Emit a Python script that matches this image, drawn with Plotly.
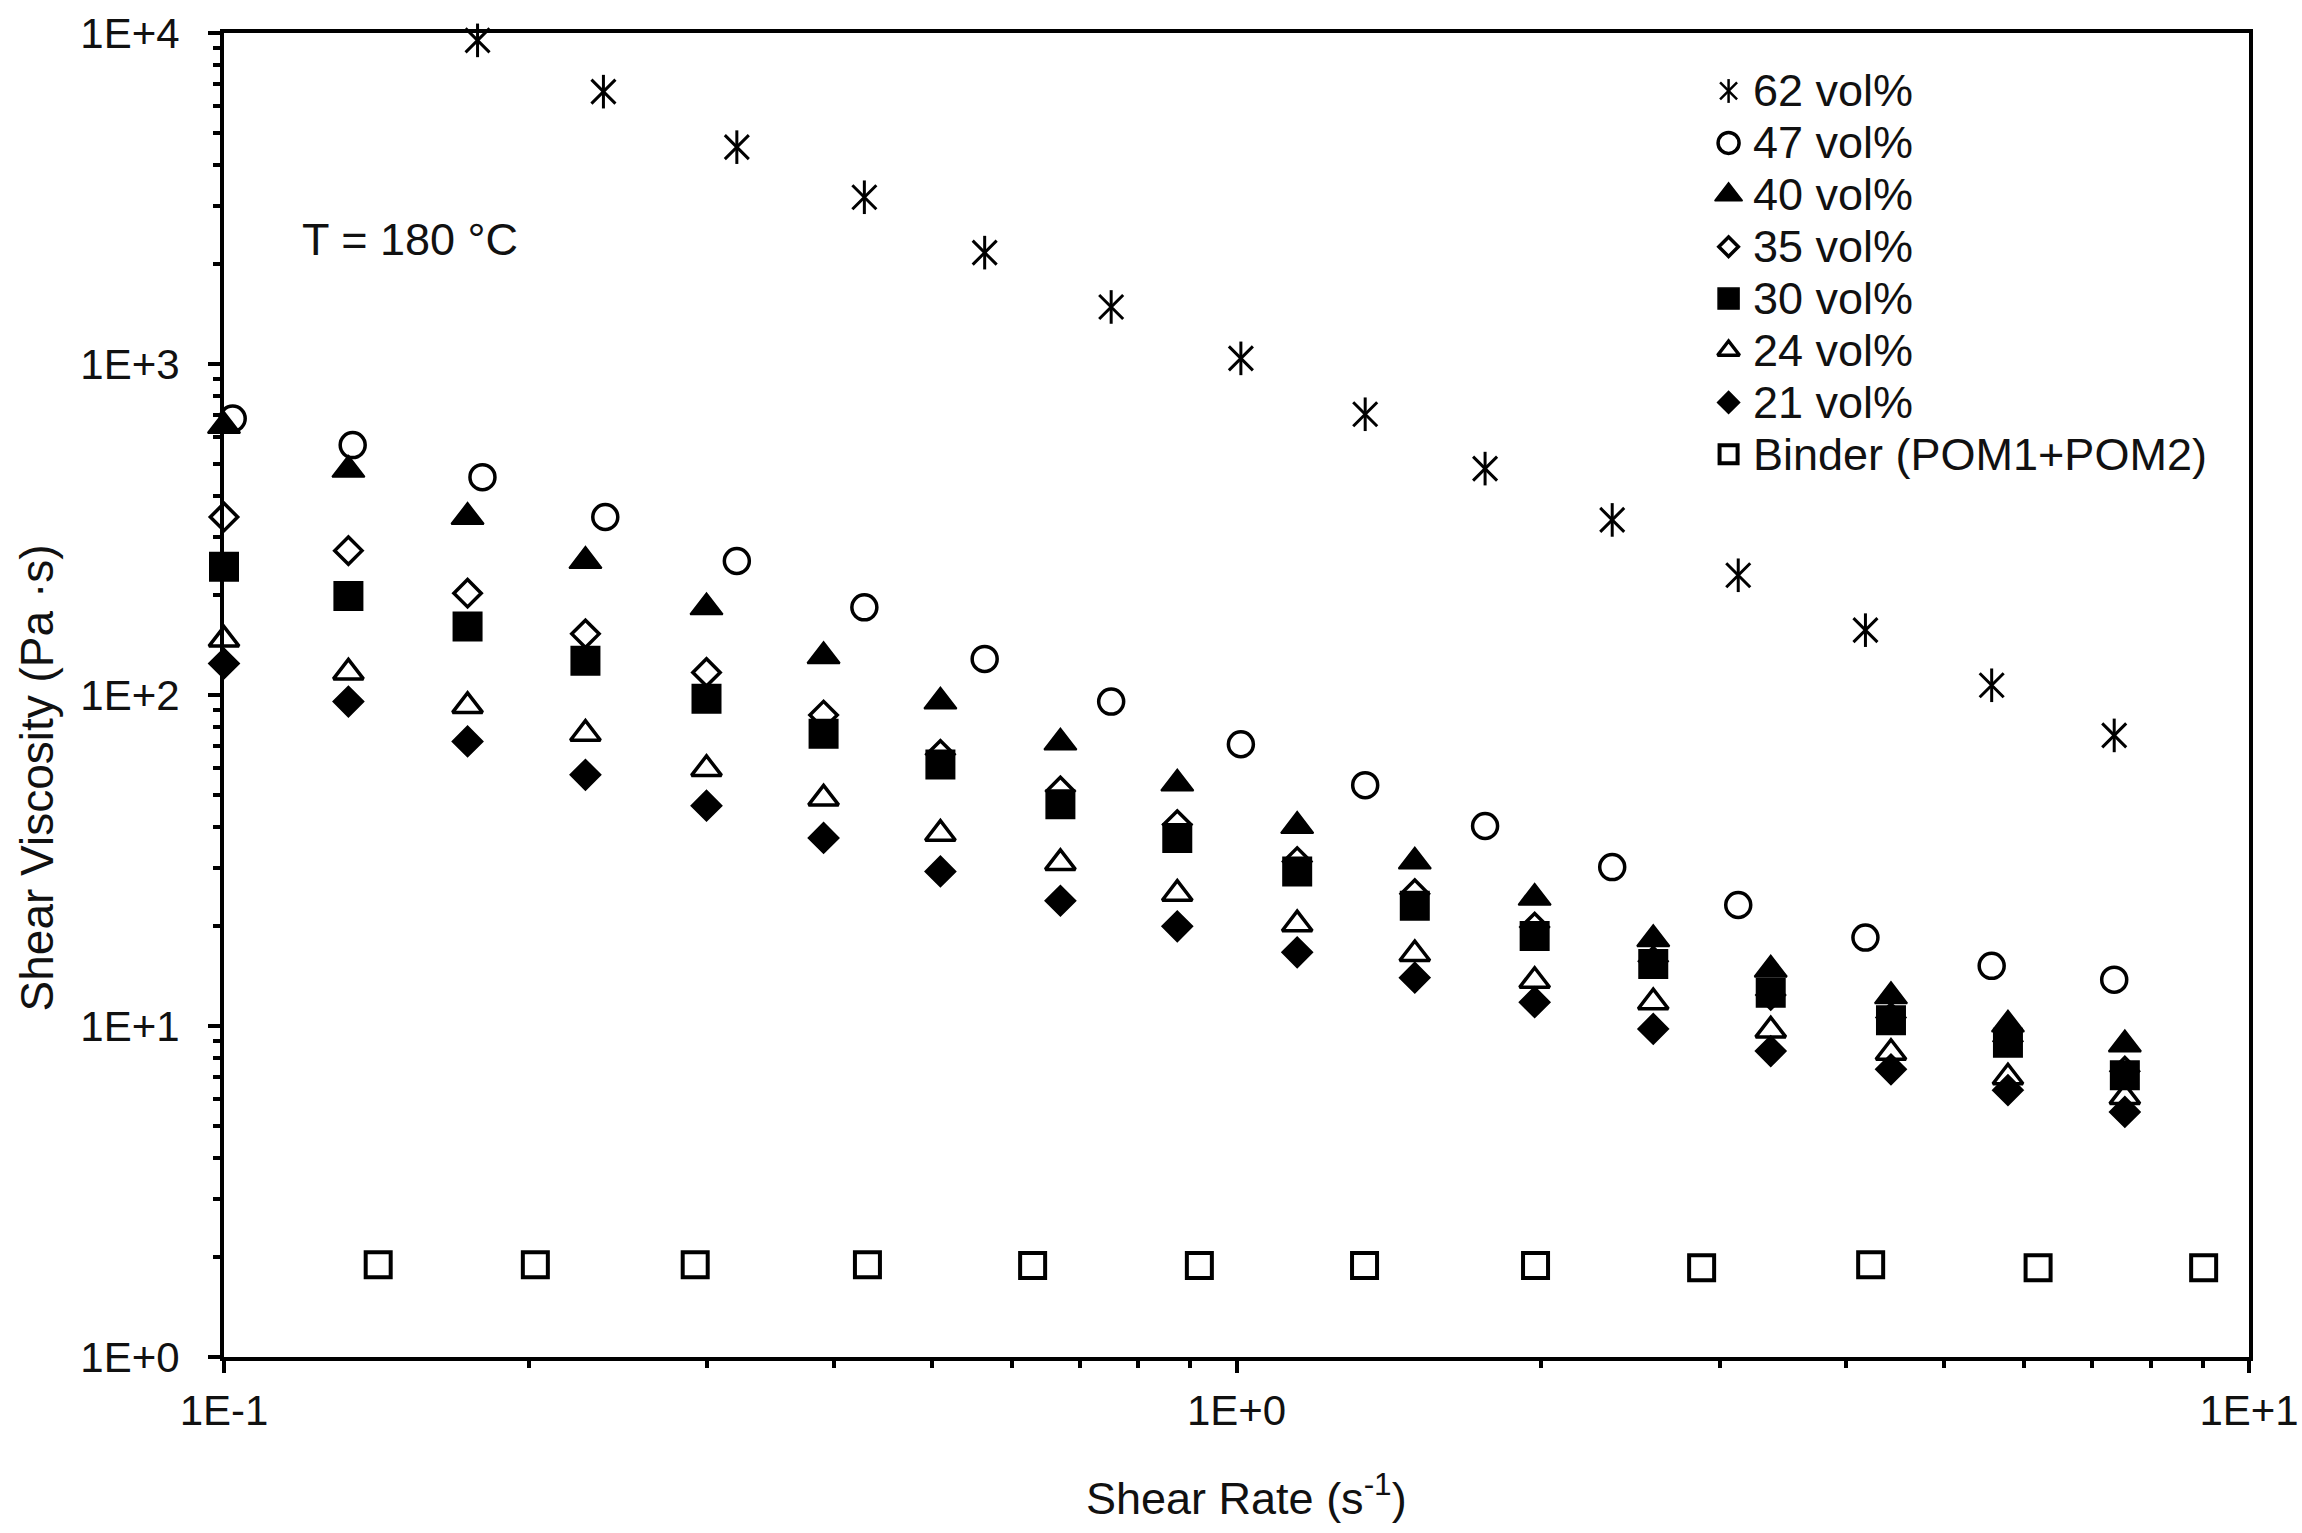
import plotly.graph_objects as go

# shear rates (1/s)
rate_62 = [0.178, 0.237, 0.321, 0.429, 0.564, 0.752, 1.01, 1.34, 1.76, 2.35, 3.13, 4.18, 5.57, 7.36]
rate_47 = [0.102, 0.134, 0.180, 0.238, 0.321, 0.429, 0.564, 0.752, 1.01, 1.34, 1.76, 2.35, 3.13, 4.18, 5.57, 7.36]
rate_low = [0.1, 0.1327, 0.174, 0.2275, 0.2996, 0.391, 0.510, 0.670, 0.874, 1.148, 1.50, 1.97, 2.58, 3.37, 4.43, 5.78, 7.54]
rate_binder = [0.142, 0.203, 0.292, 0.432, 0.629, 0.919, 1.338, 1.974, 2.88, 4.23, 6.19, 9.02]

# shear viscosity (Pa s)
visc_62 = [9500, 6650, 4520, 3190, 2170, 1487, 1040, 705, 483, 338, 230, 157, 107, 75.5]
visc_47 = [684, 569, 455, 345, 254, 184, 128.5, 95.5, 71, 53.4, 40.2, 30.2, 23.2, 18.5, 15.2, 13.8]
visc_40 = [650, 479, 345, 254, 184, 131, 95.5, 71.8, 54, 40.2, 31.4, 24.4, 18.3, 14.8, 12.3, 10.1, 8.8]
visc_35 = [345, 273, 203, 153, 117, 87, 66.2, 51.3, 40.6, 31.4, 25.1, 19.9, 15.7, 12.4, 10.6, 9.0, 7.3]
visc_30 = [244, 199, 161, 127, 97.5, 76.4, 61.7, 46.8, 37, 29.3, 23.1, 18.7, 15.4, 12.6, 10.4, 8.9, 7.1]
visc_24 = [147, 117, 92.7, 76.4, 59.8, 48.7, 38.1, 31.1, 25.1, 20.3, 16.5, 13.7, 11.8, 9.7, 8.3, 7.0, 6.1]
visc_21 = [124.5, 95.5, 72.4, 57.4, 46.3, 37, 29.3, 23.9, 20, 16.7, 14, 11.8, 9.8, 8.4, 7.4, 6.4, 5.5]
visc_binder = [1.90, 1.90, 1.90, 1.90, 1.89, 1.89, 1.89, 1.89, 1.86, 1.90, 1.86, 1.86]

x_tickvals = [0.1, 1, 10]
x_ticktext = ["1E-1", "1E+0", "1E+1"]
y_tickvals = [1, 10, 100, 1000, 10000]
y_ticktext = ["1E+0", "1E+1", "1E+2", "1E+3", "1E+4"]

FONT = "Arial, Liberation Sans, sans-serif"
BLACK = "black"
TXT = "#111111"

# legend block (paper coords of the hand-drawn key, as in the original figure)
LEG_KEY_X = 0.743
LEG_TEXT_X = 0.754
LEG_TOP = 0.9562
LEG_STEP = 0.0392

fig = go.Figure()

# name, x, y, symbol, size, line width, legend key size, legend key line width
series = [
    ("47 vol%", rate_47, visc_47, "circle-open", 25, 3.5, 21, 3.5),
    ("40 vol%", rate_low, visc_40, "triangle-up", 28, 2, 24, 1.5),
    ("35 vol%", rate_low, visc_35, "diamond-open", 21, 3.5, 15, 3.5),
    ("30 vol%", rate_low, visc_30, "square", 28, 2, 21, 1.5),
    ("24 vol%", rate_low, visc_24, "triangle-up-open", 26, 3.5, 19, 3.5),
    ("21 vol%", rate_low, visc_21, "diamond", 23, 2, 17, 1.5),
    ("Binder (POM1+POM2)", rate_binder, visc_binder, "square-open", 25, 4, 18, 4),
]

# 62 vol% : six-armed asterisk = thin x plus vertical bar
for sym in ["x-thin-open", "line-ns-open"]:
    fig.add_trace(go.Scatter(
        x=rate_62, y=visc_62, mode="markers", name="62 vol%", showlegend=False, cliponaxis=False,
        marker=dict(symbol=sym, size=24, color=BLACK, line=dict(color=BLACK, width=3)),
    ))
for name, xs, ys, sym, size, lw, _, _ in series:
    fig.add_trace(go.Scatter(
        x=xs, y=ys, mode="markers", name=name, showlegend=False, cliponaxis=False,
        marker=dict(symbol=sym, size=size, color=BLACK, line=dict(color=BLACK, width=lw)),
    ))

# legend keys drawn on an invisible overlay axis spanning the plot area
legend_names = ["62 vol%"] + [s[0] for s in series]
key_specs = [("x-thin-open", 17, 2.5)] + [(s[3], s[6], s[7]) for s in series]
annotations = []
for i, (name, (sym, ksize, klw)) in enumerate(zip(legend_names, key_specs)):
    ky = LEG_TOP - i * LEG_STEP
    syms = [sym, "line-ns-open"] if i == 0 else [sym]
    for s in syms:
        fig.add_trace(go.Scatter(
            x=[LEG_KEY_X], y=[ky], xaxis="x2", yaxis="y2", mode="markers",
            showlegend=False, hoverinfo="skip",
            marker=dict(symbol=s, size=ksize, color=BLACK, line=dict(color=BLACK, width=klw)),
        ))
    annotations.append(dict(
        text=name, xref="paper", yref="paper", x=LEG_TEXT_X, y=ky,
        xanchor="left", yanchor="middle", showarrow=False,
        font=dict(family=FONT, size=45, color=TXT),
    ))

annotations += [
    dict(text="T = 180 °C", xref="paper", yref="paper", x=0.0376, y=0.8437,
         xanchor="left", yanchor="middle", showarrow=False,
         font=dict(family=FONT, size=45, color=TXT)),
    dict(text="Shear Rate (s<sup>-1</sup>)", xref="paper", yref="paper", x=0.505, y=0,
         yshift=-138, xanchor="center", yanchor="middle", showarrow=False,
         font=dict(family=FONT, size=45, color=TXT)),
    dict(text="Shear Viscosity (Pa ·s)", xref="paper", yref="paper", x=0, y=0.437,
         xshift=-187, xanchor="center", yanchor="middle", textangle=-90, showarrow=False,
         font=dict(family=FONT, size=46, color=TXT)),
]

axis_common = dict(
    type="log",
    automargin=False,
    showgrid=False,
    zeroline=False,
    showline=True,
    linecolor=BLACK,
    linewidth=4,
    mirror=True,
    ticks="outside",
    ticklen=12,
    tickwidth=4,
    tickcolor=BLACK,
    ticklabeloverflow="allow",
    tickfont=dict(family=FONT, size=42, color=TXT),
    minor=dict(ticks="outside", ticklen=7, tickwidth=4, tickcolor=BLACK, dtick="D1", showgrid=False),
)

fig.update_layout(
    width=2302,
    height=1533,
    margin=dict(l=224, r=53, t=33, b=176),
    plot_bgcolor="white",
    paper_bgcolor="white",
    font=dict(family=FONT, size=44, color=TXT),
    xaxis=dict(axis_common, range=[-1, 1], tickmode="array", tickvals=x_tickvals,
               ticktext=x_ticktext, ticklabelstandoff=2),
    yaxis=dict(axis_common, range=[0, 4], tickmode="array", tickvals=y_tickvals,
               ticktext=y_ticktext, ticklabelstandoff=20),
    xaxis2=dict(overlaying="x", range=[0, 1], visible=False, fixedrange=True),
    yaxis2=dict(overlaying="y", range=[0, 1], visible=False, fixedrange=True),
    showlegend=False,
    annotations=annotations,
)

# page body margin removed so the figure sits at the window's top-left corner
fig.write_html("out.html", config={"displayModeBar": False},
               post_script="document.body.style.margin='0px';")
